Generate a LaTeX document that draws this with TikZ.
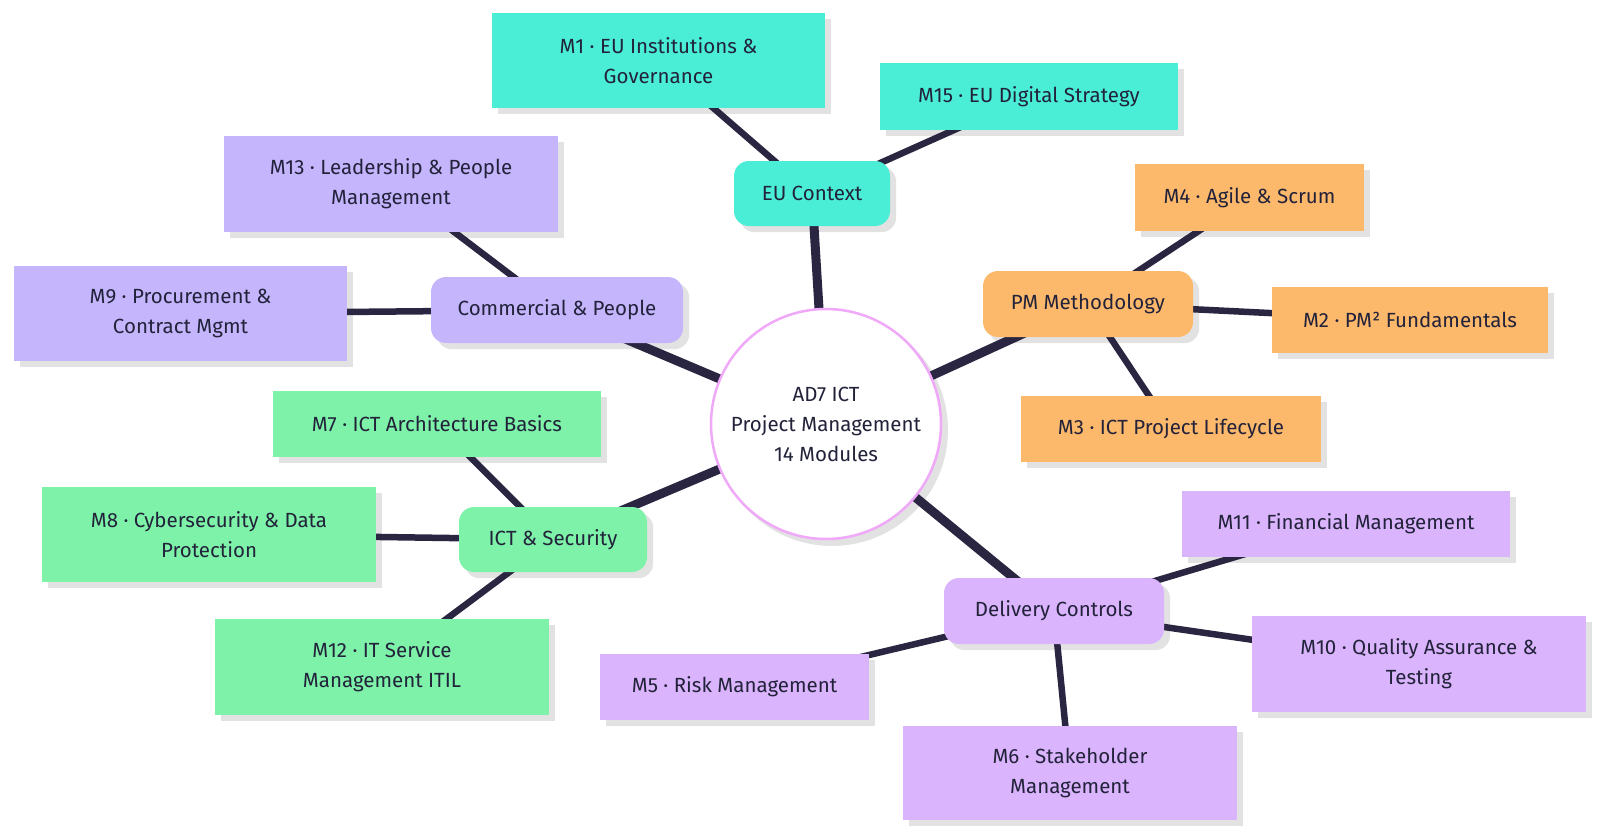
\documentclass[tikz,border=0pt]{standalone}
\usepackage{fontspec}
\setmainfont{Fira Sans}
\usetikzlibrary{calc}
\pgfdeclarelayer{shadowl}
\pgfdeclarelayer{edgel}
\pgfsetlayers{shadowl,edgel,main}
\definecolor{teal}{HTML}{4AEED6}
\definecolor{violet}{HTML}{C4B5FD}
\definecolor{lilac}{HTML}{DAB4FC}
\definecolor{orange}{HTML}{FDB96B}
\definecolor{green}{HTML}{7DF2A8}
\definecolor{ink}{HTML}{22223A}
\definecolor{edgec}{HTML}{2A2540}
\definecolor{shadowc}{HTML}{E2E2E2}
\definecolor{pinkc}{HTML}{F0A8F8}
\tikzset{
  base/.style={inner sep=0pt, align=center, text=ink, font=\fontsize{20.5}{30}\selectfont},
  leaf/.style={base, rectangle},
  branch/.style={base, rectangle, rounded corners=15pt},
  thickedge/.style={edgec, line width=9pt},
  thinedge/.style={edgec, line width=6.5pt},
}
\begin{document}
\begin{tikzpicture}[x=1pt,y=-1pt]
\useasboundingbox (0,0) rectangle (1600,835);
% center
\node[base, circle, draw=pinkc, line width=2.5pt, fill=white, minimum size=230pt] (c) at (826,424) {AD7 ICT\\Project Management\\14 Modules};
% branches
\node[branch, fill=teal, minimum width=156pt, minimum height=65pt] (eu) at (812,193.5) {EU Context};
\node[branch, fill=violet, minimum width=252pt, minimum height=66pt] (comm) at (557,310) {Commercial \& People};
\node[branch, fill=orange, minimum width=210pt, minimum height=66pt] (pm) at (1088,304) {PM Methodology};
\node[branch, fill=green, minimum width=188pt, minimum height=65pt] (ict) at (553,539.5) {ICT \& Security};
\node[branch, fill=lilac, minimum width=220pt, minimum height=66pt] (del) at (1054,611) {Delivery Controls};
% leaves
\node[leaf, fill=teal, minimum width=333pt, minimum height=95pt] (m1) at (658.5,60.5) {M1 · EU Institutions \&\\Governance};
\node[leaf, fill=teal, minimum width=298pt, minimum height=67pt] (m15) at (1029,96.5) {M15 · EU Digital Strategy};
\node[leaf, fill=violet, minimum width=334pt, minimum height=96pt] (m13) at (391,184) {M13 · Leadership \& People\\Management};
\node[leaf, fill=violet, minimum width=333pt, minimum height=95pt] (m9) at (180.5,313.5) {M9 · Procurement \&\\Contract Mgmt};
\node[leaf, fill=orange, minimum width=229pt, minimum height=67pt] (m4) at (1249.5,197.5) {M4 · Agile \& Scrum};
\node[leaf, fill=orange, minimum width=276pt, minimum height=66pt] (m2) at (1410,320) {M2 · PM² Fundamentals};
\node[leaf, fill=orange, minimum width=300pt, minimum height=66pt] (m3) at (1171,429) {M3 · ICT Project Lifecycle};
\node[leaf, fill=green, minimum width=328pt, minimum height=66pt] (m7) at (437,424) {M7 · ICT Architecture Basics};
\node[leaf, fill=green, minimum width=334pt, minimum height=95pt] (m8) at (209,534.5) {M8 · Cybersecurity \& Data\\Protection};
\node[leaf, fill=green, minimum width=334pt, minimum height=96pt] (m12) at (382,667) {M12 · IT Service\\Management ITIL};
\node[leaf, fill=lilac, minimum width=328pt, minimum height=66pt] (m11) at (1346,524) {M11 · Financial Management};
\node[leaf, fill=lilac, minimum width=334pt, minimum height=96pt] (m10) at (1419,664) {M10 · Quality Assurance \&\\Testing};
\node[leaf, fill=lilac, minimum width=269pt, minimum height=66pt] (m5) at (734.5,687) {M5 · Risk Management};
\node[leaf, fill=lilac, minimum width=334pt, minimum height=94pt] (m6) at (1070,773) {M6 · Stakeholder\\Management};
% shadows
\begin{pgfonlayer}{shadowl}
\foreach \n in {m1,m15,m13,m9,m4,m2,m3,m7,m8,m12,m11,m10,m5,m6}
  \fill[shadowc] ($(\n.north west)+(6,6)$) rectangle ($(\n.south east)+(6,6)$);
\foreach \n in {eu,comm,pm,ict,del}
  \fill[shadowc, rounded corners=15pt] ($(\n.north west)+(6,6)$) rectangle ($(\n.south east)+(6,6)$);
\fill[shadowc] ($(c.center)+(6,6)$) circle[radius=116pt];
\end{pgfonlayer}
% edges
\begin{pgfonlayer}{edgel}
\foreach \b in {eu,comm,pm,ict,del}
  \draw[thickedge] (c.center) -- (\b.center);
\foreach \a/\b in {eu/m1,eu/m15,comm/m13,comm/m9,pm/m4,pm/m2,pm/m3,ict/m7,ict/m8,ict/m12,del/m11,del/m10,del/m5,del/m6}
  \draw[thinedge] (\a.center) -- (\b.center);
\end{pgfonlayer}
\end{tikzpicture}
\end{document}
